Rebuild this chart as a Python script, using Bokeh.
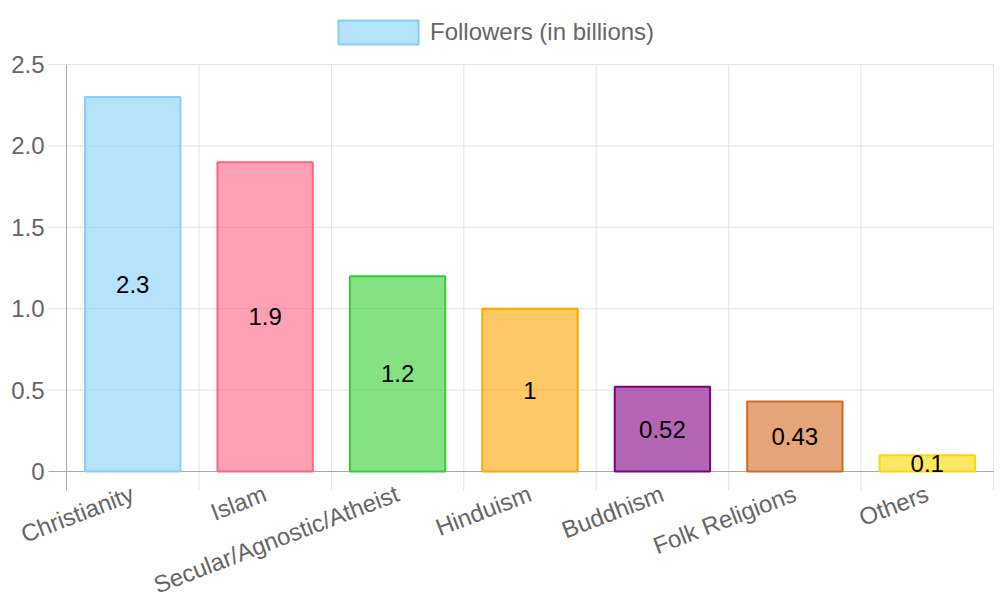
import math
from bokeh.plotting import figure
from bokeh.models import Range1d, ColumnDataSource, Legend, LegendItem, LabelSet
from bokeh.core.properties import value
from bokeh.embed import file_html
from bokeh.resources import INLINE

categories = ["Christianity", "Islam", "Secular/Agnostic/Atheist", "Hinduism",
              "Buddhism", "Folk Religions", "Others"]
followers = [2.3, 1.9, 1.2, 1.0, 0.52, 0.43, 0.1]
value_labels = ["2.3", "1.9", "1.2", "1", "0.52", "0.43", "0.1"]
base_colors = ["#87cefa", "#ff6384", "#32cd32", "#ffa500", "#800080", "#d2691e", "#ffd700"]
y_ticks = [0, 0.5, 1.0, 1.5, 2.0, 2.5]
y_tick_labels = ["0", "0.5", "1.0", "1.5", "2.0", "2.5"]
series_name = "Followers (in billions)"

FONT = "Liberation Sans"
GRID = "#e3e3e3"
AXIS = "#aaaaaa"
TXT = "#666666"

# layout (pixels)
W, H = 1000, 600
PLOT_LEFT, PLOT_RIGHT = 66, 993          # pixel columns of the category range ends
PLOT_TOP, PLOT_BOTTOM = 64, 471          # pixel rows of y=2.5 and y=0
X_TICK_LEN, Y_TICK_LEN = 19, 18

n = len(categories)
y_min_val, y_max_val = y_ticks[0], y_ticks[-1]
yu = (y_max_val - y_min_val) / (PLOT_BOTTOM - PLOT_TOP)
xu = n / (PLOT_RIGHT - PLOT_LEFT)
x_start, x_end = -PLOT_LEFT * xu, n + (W - PLOT_RIGHT) * xu
y_start = y_min_val - (H - PLOT_BOTTOM) * yu
y_end = y_max_val + PLOT_TOP * yu

xs = [i + 0.5 for i in range(n)]
bounds = list(range(n + 1))
src = ColumnDataSource(dict(x=xs, top=followers, mid=[v / 2 for v in followers],
                            lab=value_labels, color=base_colors, cat=categories,
                            zero=[0.0] * n))
ysrc = ColumnDataSource(dict(y=y_ticks, lab=y_tick_labels, zero=[0.0] * len(y_ticks)))

p = figure(width=W, height=H, output_backend="svg", toolbar_location=None,
           x_range=Range1d(x_start, x_end), y_range=Range1d(y_start, y_end),
           min_border_left=0, min_border_right=0, min_border_top=0, min_border_bottom=0)
p.outline_line_color = None
p.xaxis.visible = False
p.yaxis.visible = False
p.xgrid.grid_line_color = None
p.ygrid.grid_line_color = None

# horizontal grid lines (extending left of the y axis as tick marks)
p.segment(x0=[-Y_TICK_LEN * xu] * len(y_ticks), x1=[n] * len(y_ticks), y0=y_ticks, y1=y_ticks,
          line_color=GRID, line_width=1)
# vertical grid lines at category boundaries (extending below as tick marks)
p.segment(x0=bounds, x1=bounds, y0=[y_min_val - X_TICK_LEN * yu] * len(bounds),
          y1=[y_max_val] * len(bounds), line_color=GRID, line_width=1)
# axis lines
p.segment(x0=[0], x1=[0], y0=[y_min_val - X_TICK_LEN * yu], y1=[y_max_val],
          line_color=AXIS, line_width=1)
p.segment(x0=[-Y_TICK_LEN * xu], x1=[n], y0=[y_min_val], y1=[y_min_val],
          line_color=AXIS, line_width=1)

r = p.vbar(x="x", top="top", bottom=0, width=0.72, source=src,
           fill_color="color", fill_alpha=0.6, line_color="color", line_width=2)
p.text(x="x", y="mid", text="lab", source=src, text_align="center", text_baseline="middle",
       text_font=value(FONT), text_font_size="24px", text_color="#000000")

# category labels, rotated, ending at each category centre
p.add_layout(LabelSet(x="x", y="zero", y_offset=-21, text="cat", source=src,
                      angle=math.radians(21), text_align="right", text_baseline="middle",
                      text_font=value(FONT), text_font_size="24px", text_color=TXT))
# value-axis tick labels
p.add_layout(LabelSet(x="zero", y="y", x_offset=-22, text="lab", source=ysrc,
                      text_align="right", text_baseline="middle",
                      text_font=value(FONT), text_font_size="24px", text_color=TXT))

legend = Legend(items=[LegendItem(label=series_name, renderers=[r], index=0)],
                orientation="horizontal", location=(328, H - 47),
                glyph_width=100, glyph_height=30, label_height=30, label_standoff=2,
                label_text_font=FONT, label_text_font_size="24px", label_text_color=TXT,
                border_line_color=None, background_fill_alpha=0, margin=0, padding=0)
p.add_layout(legend, "center")

open("out.html", "w").write(file_html(p, INLINE))
